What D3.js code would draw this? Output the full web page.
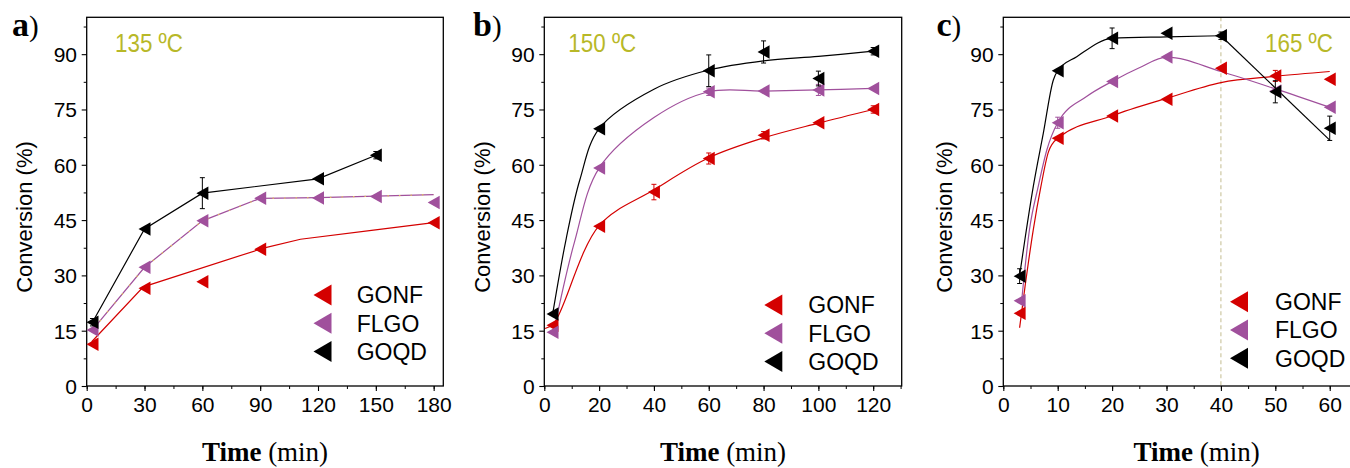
<!DOCTYPE html>
<html><head><meta charset="utf-8">
<script src="https://cdn.jsdelivr.net/npm/d3@7"></script>
<style>body{margin:0;background:#fff} svg{display:block}</style>
</head><body>
<svg id="chart" width="1350" height="468"></svg>
<script>
// ---------------- DATA ----------------
const seriesNames = ["GONF", "FLGO", "GOQD"];
const yTicks = [0, 15, 30, 45, 60, 75, 90];
const aTicks = [0, 30, 60, 90, 120, 150, 180];
const bTicks = [0, 20, 40, 60, 80, 100, 120];
const cTicks = [0, 10, 20, 30, 40, 50, 60];
const tempLabels = ["135 ºC", "150 ºC", "165 ºC"];
const panelLetters = ["a", "b", "c"];

// Panel a (135 ºC): [time, conversion, error]
const a_GONF = [[3, 11.3, 0], [30, 26.5, 0], [60, 28.3, 0], [90, 37.1, 0], [180, 44.3, 0]];
const a_FLGO = [[3, 15.2, 0], [30, 32.2, 0], [60, 44.8, 0], [90, 50.9, 0], [120, 51.0, 0], [150, 51.4, 0], [180, 49.8, 0]];
const a_GOQD = [[3, 17.3, 1], [30, 42.6, 0], [60, 52.3, 4.2], [120, 56.2, 0], [150, 62.6, 1]];
// fitted lines
const a_GONF_fit = [[2.6, 12], [29.4, 26.9], [91.7, 37.4], [110.9, 39.8], [148.8, 42.3], [180, 44.3]];
const a_FLGO_fit = [[3, 15.2], [30, 32.2], [60, 44.8], [90, 50.9], [120, 51.1], [150, 51.5], [180, 51.9]];
const a_GOQD_fit = [[3, 17.3], [30, 42.6], [60, 52.3], [120, 56.2], [150, 62.6]];

// Panel b (150 ºC)
const b_GONF = [[3, 16.5, 0], [20, 43.3, 0], [40, 52.6, 2.1], [60, 61.7, 1.5], [80, 68.0, 1], [100, 71.4, 0], [120, 75.0, 1]];
const b_FLGO = [[3, 14.6, 0], [20, 59.1, 0], [60, 79.8, 1], [80, 80.0, 0], [100, 80.3, 1.5], [120, 80.7, 0]];
const b_GOQD = [[3, 19.5, 0], [20, 69.8, 0], [60, 85.5, 4.3], [80, 90.6, 3], [100, 83.4, 2], [120, 90.8, 1]];
const b_GONF_fit = [[0.3, 15.6], [3.5, 17], [20, 43.5], [40, 53.2], [60, 61.9], [80, 67.3], [100, 71.3], [120, 75]];
const b_FLGO_fit = [[3.6, 15.3], [11, 39], [20, 59.1], [40, 72.8], [60, 79.8], [80, 80], [100, 80.3], [120, 80.7]];
const b_GOQD_fit = [[3, 19.3], [8, 40], [13, 56], [20, 69.8], [40, 80.5], [60, 85.7], [80, 88.2], [100, 89.4], [120, 90.8]];

// Panel c (165 ºC)
const c_GONF = [[3, 19.7, 0], [10, 67.2, 0], [20, 73.2, 0], [30, 77.8, 0], [40, 86.2, 0], [50, 84.1, 1.5], [60, 83.2, 0]];
const c_FLGO = [[3, 23.1, 0], [10, 71.4, 1.5], [20, 82.6, 0], [30, 89.2, 0], [50, 80.0, 0], [60, 75.6, 0]];
const c_GOQD = [[3, 29.8, 2], [10, 85.5, 0], [20, 94.3, 2.8], [30, 95.7, 0], [40, 95.0, 1], [50, 79.8, 3], [60, 69.9, 3.3]];
const c_GONF_fit = [[3, 15.8], [4, 27], [5.5, 42.3], [6.9, 54], [8.3, 63.5], [10, 67.2], [20, 73.3], [30, 78], [40, 82.3], [50, 84], [60, 85.3]];
const c_FLGO_fit = [[3.3, 22], [4.8, 42.3], [6.4, 54], [8, 64], [10, 71.4], [15.3, 78.5], [20, 82.6], [25, 86.3], [30, 89.2], [40, 85.3], [50, 80.6], [60, 75.6]];
const c_GOQD_fit_rise = [[3, 30], [4, 40], [5.5, 54], [7.35, 68.5], [9.2, 83], [10, 85.5], [13.5, 89.3], [20, 94.3], [30, 94.7], [40, 95]];
const c_GOQD_fit_drop = [[40, 95], [60, 66.7]];
const c_marker_time = [40];

// ---------------- STYLE / LAYOUT ----------------
const colors = {GONF: "#d40000", FLGO: "#a0509c", GOQD: "#000000"};
const tempColor = "#b8b828";
const sans = "'Liberation Sans', Arial, Helvetica, sans-serif";
const serif = "'Liberation Serif', 'Times New Roman', serif";
const TOP = 17.3, BOTTOM = 386;

const panels = [
  {x0: 86.7, x1: 443.3, xmax: 185, ticks: aTicks, minorStep: 15, minorMax: 180,
   data: {GONF: a_GONF, FLGO: a_FLGO, GOQD: a_GOQD},
   fits: [{s: "GONF", pts: a_GONF_fit, c: "linear"}, {s: "FLGO", pts: a_FLGO_fit, c: "linear", dots: true}, {s: "GOQD", pts: a_GOQD_fit, c: "linear"}],
   letterX: 12, tempX: 115, legX: 322.5, legY: 295, legTextX: 356.7, yTitleX: 31.7},
  {x0: 544.3, x1: 901.7, xmax: 130.4, ticks: bTicks, minorStep: 10, minorMax: 130,
   data: {GONF: b_GONF, FLGO: b_FLGO, GOQD: b_GOQD},
   fits: [{s: "GONF", pts: b_GONF_fit, c: "cat"}, {s: "FLGO", pts: b_FLGO_fit, c: "cat"}, {s: "GOQD", pts: b_GOQD_fit, c: "cat"}],
   letterX: 473, tempX: 568.3, legX: 773.3, legY: 305, legTextX: 808.3, yTitleX: 490},
  {x0: 1003.3, x1: 1390, xmax: 71.08, ticks: cTicks, minorStep: 5, minorMax: 70,
   data: {GONF: c_GONF, FLGO: c_FLGO, GOQD: c_GOQD},
   fits: [{s: "GONF", pts: c_GONF_fit, c: "mono"}, {s: "FLGO", pts: c_FLGO_fit, c: "mono"}, {s: "GOQD", pts: c_GOQD_fit_rise, c: "mono"}, {s: "GOQD", pts: c_GOQD_fit_drop, c: "linear"}],
   vline: c_marker_time,
   letterX: 936.5, tempX: 1265, legX: 1239, legY: 301.7, legTextX: 1275, yTitleX: 951.7}
];

const svg = d3.select("#chart");
const y = d3.scaleLinear().domain([0, 100]).range([BOTTOM, TOP]);

function tri(w, h) { return `M${-w/2},0L${w/2},${-h/2}L${w/2},${h/2}Z`; }
const curves = {linear: d3.curveLinear, mono: d3.curveMonotoneX, cat: d3.curveCatmullRom.alpha(0.5)};

panels.forEach((p, pi) => {
  const x = d3.scaleLinear().domain([0, p.xmax]).range([p.x0, p.x1]);
  const g = svg.append("g");

  if (p.vline) {
    p.vline.forEach(t => {
      g.append("line").attr("x1", x(t)).attr("x2", x(t)).attr("y1", TOP).attr("y2", BOTTOM)
        .attr("stroke", "#c9c39a").attr("stroke-width", 1.1).attr("stroke-dasharray", "4,3");
    });
  }

  // minor ticks
  const minorX = d3.range(0, p.minorMax + 0.001, p.minorStep);
  g.append("g").attr("transform", `translate(0,${BOTTOM})`)
    .call(d3.axisBottom(x).tickValues(minorX).tickSize(3).tickSizeOuter(0).tickFormat(""))
    .call(s => s.select(".domain").remove())
    .call(s => s.selectAll("line").attr("stroke", "#000").attr("stroke-width", 1));
  g.append("g").attr("transform", `translate(${p.x0},0)`)
    .call(d3.axisLeft(y).tickValues(d3.range(7.5, 100, 15)).tickSize(3).tickSizeOuter(0).tickFormat(""))
    .call(s => s.select(".domain").remove())
    .call(s => s.selectAll("line").attr("stroke", "#000").attr("stroke-width", 1));

  // major axes
  const xa = g.append("g").attr("transform", `translate(0,${BOTTOM})`)
    .call(d3.axisBottom(x).tickValues(p.ticks).tickSize(5).tickSizeOuter(0).tickPadding(5.6).tickFormat(d3.format("d")));
  xa.select(".domain").remove();
  xa.selectAll("line").attr("stroke", "#000").attr("stroke-width", 1.1);
  xa.selectAll("text").attr("font-family", sans).attr("font-size", 21).attr("fill", "#000");

  const ya = g.append("g").attr("transform", `translate(${p.x0},0)`)
    .call(d3.axisLeft(y).tickValues(yTicks).tickSize(5).tickSizeOuter(0).tickPadding(4.7));
  ya.select(".domain").remove();
  ya.selectAll("line").attr("stroke", "#000").attr("stroke-width", 1.1);
  ya.selectAll("text").attr("font-family", sans).attr("font-size", 21).attr("fill", "#000").attr("dy", "0.35em");

  // frame
  g.append("rect").attr("x", p.x0).attr("y", TOP).attr("width", p.x1 - p.x0).attr("height", BOTTOM - TOP)
    .attr("fill", "none").attr("stroke", "#000").attr("stroke-width", 1.3);

  // fit lines
  p.fits.forEach(f => {
    const line = d3.line().x(d => x(d[0])).y(d => y(d[1])).curve(curves[f.c]);
    g.append("path").attr("d", line(f.pts)).attr("fill", "none")
      .attr("stroke", colors[f.s]).attr("stroke-width", 1.2);
    if (f.dots) {
      g.append("path").attr("d", line(f.pts)).attr("fill", "none")
        .attr("stroke", "#e2c35a").attr("stroke-width", 1.2).attr("stroke-dasharray", "1.5,10");
    }
  });

  // markers + error bars
  seriesNames.forEach(s => {
    const col = colors[s];
    const pts = p.data[s];
    const eb = g.append("g");
    pts.filter(d => d[2] > 0).forEach(d => {
      const cx = x(d[0]), yt = y(d[1] + d[2]), yb = y(d[1] - d[2]);
      eb.append("line").attr("x1", cx).attr("x2", cx).attr("y1", yt).attr("y2", yb).attr("stroke", col).attr("stroke-width", 1);
      eb.append("line").attr("x1", cx - 2.5).attr("x2", cx + 2.5).attr("y1", yt).attr("y2", yt).attr("stroke", col).attr("stroke-width", 1);
      eb.append("line").attr("x1", cx - 2.5).attr("x2", cx + 2.5).attr("y1", yb).attr("y2", yb).attr("stroke", col).attr("stroke-width", 1);
    });
    g.selectAll(null).data(pts).enter().append("path")
      .attr("d", tri(12, 13.5))
      .attr("transform", d => `translate(${x(d[0])},${y(d[1])})`)
      .attr("fill", col);
  });

  // legend
  seriesNames.forEach((s, i) => {
    const ly = p.legY + i * 28.3;
    g.append("path").attr("d", tri(18, 21)).attr("transform", `translate(${p.legX},${ly})`).attr("fill", colors[s]);
    g.append("text").attr("x", p.legTextX).attr("y", ly + 8.3).attr("font-family", sans)
      .attr("font-size", 23).attr("fill", "#000").text(s);
  });

  // temperature label
  g.append("text").attr("x", p.tempX).attr("y", 51.7).attr("font-family", sans).attr("font-size", 26.5)
    .attr("fill", tempColor).attr("textLength", 68).attr("lengthAdjust", "spacingAndGlyphs").text(tempLabels[pi]);

  // panel letter
  const lt = g.append("text").attr("x", p.letterX).attr("y", 36).attr("font-family", serif);
  lt.append("tspan").attr("font-weight", "bold").attr("font-size", 34).text(panelLetters[pi]);
  lt.append("tspan").attr("font-size", 29).text(")");

  // axis titles
  g.append("text").attr("transform", `translate(${p.yTitleX},217) rotate(-90)`).attr("text-anchor", "middle")
    .attr("font-family", sans).attr("font-size", 22).attr("fill", "#000").text("Conversion (%)");
  const xt = g.append("text").attr("x", (p.x0 + p.x1) / 2).attr("y", 461).attr("text-anchor", "middle")
    .attr("font-family", serif).attr("font-size", 27).attr("fill", "#000");
  xt.append("tspan").attr("font-weight", "bold").text("Time");
  xt.append("tspan").text(" (min)");
});
</script>
</body></html>
